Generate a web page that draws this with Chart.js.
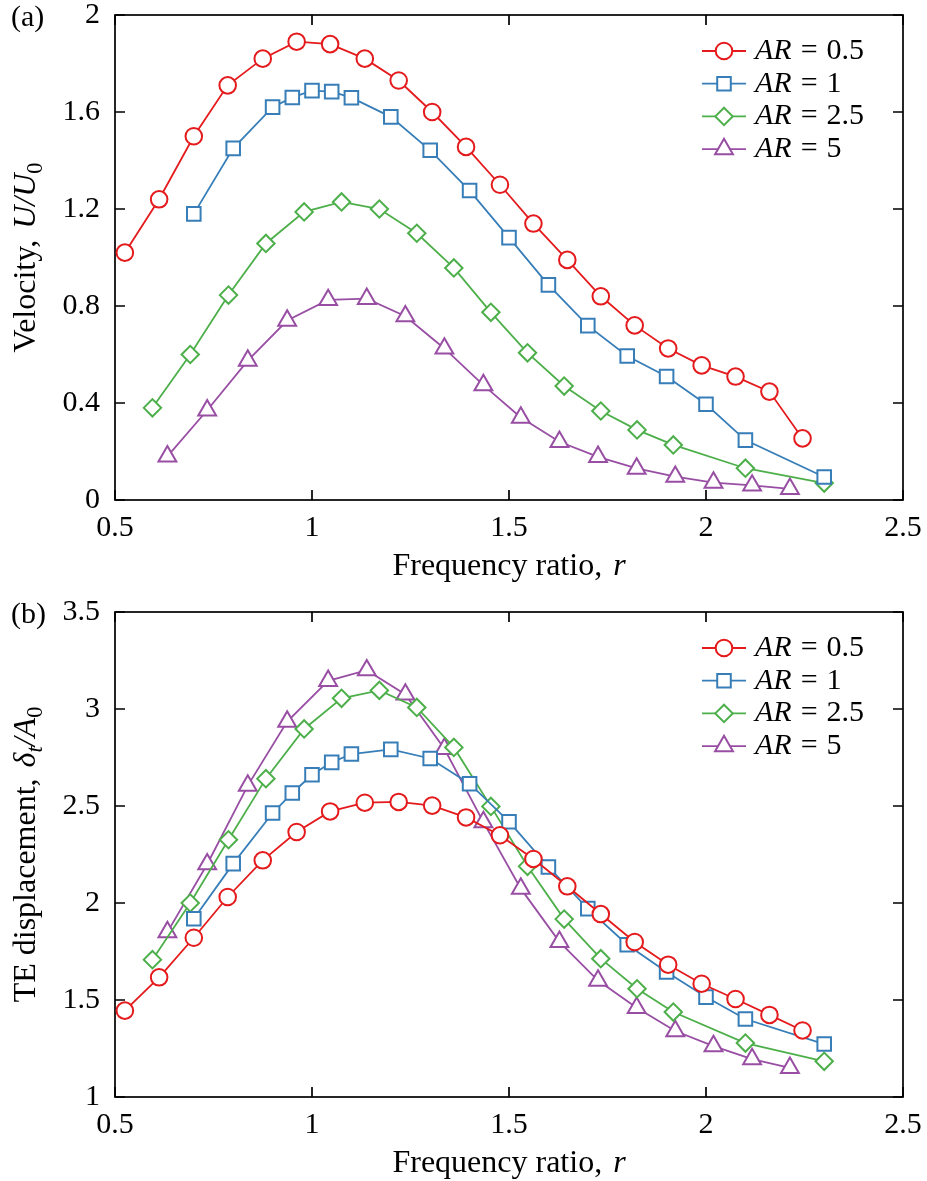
<!DOCTYPE html>
<html>
<head>
<meta charset="utf-8">
<script src="https://cdn.jsdelivr.net/npm/chart.js@4.4.0/dist/chart.umd.min.js"></script>
<style>
  body { margin: 0; background: #fff; }
  .box { position: absolute; left: 0; width: 927px; }
</style>
</head>
<body>
<div class="box" style="top:0;height:590px"><canvas id="velocity"></canvas></div>
<div class="box" style="top:590px;height:591px"><canvas id="displacement"></canvas></div>
<script>
// frequency ratio r for each series
var rAR05 = [0.525, 0.612, 0.700, 0.786, 0.875, 0.961, 1.046, 1.134, 1.220, 1.305, 1.391,
             1.477, 1.562, 1.648, 1.733, 1.819, 1.904, 1.989, 2.075, 2.161, 2.245];
var rAR1  = [0.70, 0.80, 0.90, 0.95, 1.00, 1.05, 1.10, 1.20, 1.30, 1.40, 1.50,
             1.60, 1.70, 1.80, 1.90, 2.00, 2.10, 2.30];
var rAR25 = [0.595, 0.691, 0.788, 0.883, 0.980, 1.075, 1.171, 1.266, 1.360, 1.454,
             1.547, 1.640, 1.733, 1.825, 1.917, 2.100, 2.300];
var rAR5  = [0.633, 0.734, 0.837, 0.937, 1.041, 1.139, 1.237, 1.336, 1.435,
             1.530, 1.628, 1.726, 1.824, 1.922, 2.019, 2.117, 2.213];

// (a) velocity U/U0
var velAR05 = [1.02, 1.24, 1.50, 1.71, 1.82, 1.89, 1.88, 1.82, 1.73, 1.60, 1.456,
               1.30, 1.14, 0.99, 0.84, 0.72, 0.625, 0.555, 0.509, 0.447, 0.254];
var velAR1  = [1.18, 1.45, 1.62, 1.66, 1.688, 1.684, 1.659, 1.58, 1.442, 1.276, 1.082,
               0.887, 0.719, 0.594, 0.509, 0.395, 0.247, 0.095];
var velAR25 = [0.38, 0.60, 0.845, 1.058, 1.188, 1.229, 1.20, 1.10, 0.957, 0.774,
               0.607, 0.47, 0.367, 0.289, 0.227, 0.131, 0.07];
var velAR5  = [0.18, 0.37, 0.575, 0.74, 0.825, 0.83, 0.758, 0.625, 0.474,
               0.34, 0.24, 0.178, 0.13, 0.096, 0.072, 0.06, 0.046];

// (b) TE displacement delta_t/A0
var dispAR05 = [1.445, 1.617, 1.821, 2.031, 2.220, 2.366, 2.472, 2.517, 2.521, 2.502, 2.441,
                2.349, 2.227, 2.086, 1.943, 1.799, 1.682, 1.584, 1.505, 1.423, 1.343];
var dispAR1  = [1.919, 2.203, 2.464, 2.567, 2.661, 2.725, 2.768, 2.792, 2.745, 2.615, 2.419,
                2.186, 1.971, 1.785, 1.644, 1.515, 1.402, 1.273];
var dispAR25 = [1.708, 2.000, 2.326, 2.641, 2.897, 3.055, 3.096, 3.008, 2.802, 2.498,
                2.189, 1.917, 1.713, 1.558, 1.438, 1.278, 1.184];
var dispAR5  = [1.85, 2.20, 2.605, 2.935, 3.145, 3.20, 3.075, 2.795, 2.417,
                2.074, 1.80, 1.60, 1.46, 1.34, 1.262, 1.195, 1.15];

var seriesNames = ['0.5', '1', '2.5', '5'];
var seriesColors = ['#e41a1c', '#377eb8', '#4daf4a', '#984ea3'];
var seriesMarkers = ['circle', 'rect', 'rectRot', 'triangle'];
var markerSizes = [8.3, 9.6, 8.7, 10.3];

var xTicks = [0.5, 1, 1.5, 2, 2.5];

var SERIF = '"Liberation Serif", "DejaVu Serif", serif';
var FS = 30;   // tick labels
var TS = 32;   // axis titles

function pairs(xs, ys) {
  return xs.map(function (x, i) { return { x: x, y: ys[i] }; });
}

function makeDatasets(ySets) {
  var xSets = [rAR05, rAR1, rAR25, rAR5];
  return ySets.map(function (ys, i) {
    return {
      label: 'AR = ' + seriesNames[i],
      data: pairs(xSets[i], ys),
      borderColor: seriesColors[i],
      borderWidth: 1.8,
      pointStyle: seriesMarkers[i],
      pointRadius: markerSizes[i],
      pointHoverRadius: markerSizes[i],
      pointBorderWidth: 2,
      pointBackgroundColor: '#fff',
      pointBorderColor: seriesColors[i],
      clip: false,
      tension: 0
    };
  });
}

// draw text made of pieces in different styles, centred on (x, y)
function drawRich(c, parts, x, y, size) {
  var w = 0;
  parts.forEach(function (p) {
    p.px = p.sub ? size * 0.7 : size;
    c.font = (p.it ? 'italic ' : '') + p.px + 'px ' + SERIF;
    p.w = c.measureText(p.t).width + (p.gap || 0);
    w += p.w;
  });
  var cx = x - w / 2;
  c.textAlign = 'left';
  c.textBaseline = 'middle';
  parts.forEach(function (p) {
    c.font = (p.it ? 'italic ' : '') + p.px + 'px ' + SERIF;
    c.fillText(p.t, cx, y + (p.sub ? size * 0.28 : 0));
    cx += p.w;
  });
}

function drawMarker(c, style, r, x, y) {
  c.beginPath();
  if (style === 'circle') {
    c.arc(x, y, r, 0, Math.PI * 2);
  } else if (style === 'rect') {
    var s = r * Math.SQRT1_2;
    c.rect(x - s, y - s, 2 * s, 2 * s);
  } else if (style === 'rectRot') {
    c.moveTo(x, y - r); c.lineTo(x + r, y); c.lineTo(x, y + r); c.lineTo(x - r, y); c.closePath();
  } else {
    c.moveTo(x, y - r);
    c.lineTo(x + r * Math.sin(Math.PI * 2 / 3), y - r * Math.cos(Math.PI * 2 / 3));
    c.lineTo(x - r * Math.sin(Math.PI * 2 / 3), y - r * Math.cos(Math.PI * 2 / 3));
    c.closePath();
  }
  c.fill();
  c.stroke();
}

var framePlugin = {
  id: 'frame',
  beforeDatasetsDraw: function (chart) {
    var a = chart.chartArea, c = chart.ctx;
    var xs = chart.scales.x, ys = chart.scales.y;
    c.save();
    c.strokeStyle = '#000';
    c.lineWidth = 1.7;
    c.beginPath();
    xs.ticks.forEach(function (t) {
      var p = xs.getPixelForValue(t.value);
      c.moveTo(p, a.bottom); c.lineTo(p, a.bottom - 10);
      c.moveTo(p, a.top); c.lineTo(p, a.top + 10);
    });
    ys.ticks.forEach(function (t) {
      var p = ys.getPixelForValue(t.value);
      c.moveTo(a.left, p); c.lineTo(a.left + 10, p);
      c.moveTo(a.right, p); c.lineTo(a.right - 10, p);
    });
    c.stroke();
    c.strokeRect(a.left, a.top, a.right - a.left, a.bottom - a.top);
    c.restore();
  },
  afterDraw: function (chart) {
    var o = chart.options.plugins.frame;
    var a = chart.chartArea, c = chart.ctx;
    c.save();
    c.fillStyle = '#000';
    // panel tag
    c.font = FS + 'px ' + SERIF;
    c.textAlign = 'left';
    c.textBaseline = 'middle';
    c.fillText(o.tag, 11, a.top + 3);
    // x title
    drawRich(c, [{ t: 'Frequency ratio, ', gap: 3 }, { t: 'r', it: true }],
      (a.left + a.right) / 2, a.bottom + 67, TS);
    // y title
    c.translate(27, (a.top + a.bottom) / 2);
    c.rotate(-Math.PI / 2);
    drawRich(c, o.yTitle, 0, 0, TS);
    c.restore();

    // legend
    c.save();
    chart.data.datasets.forEach(function (ds, i) {
      var y = a.top + 36 + i * 32.7;
      var x0 = a.right - 201, x1 = a.right - 157;
      c.strokeStyle = ds.borderColor;
      c.lineWidth = 1.8;
      c.beginPath(); c.moveTo(x0, y); c.lineTo(x1, y); c.stroke();
      c.fillStyle = '#fff';
      c.lineWidth = 2;
      drawMarker(c, ds.pointStyle, ds.pointRadius, (x0 + x1) / 2, y);
      c.fillStyle = '#000';
      c.textAlign = 'left';
      c.textBaseline = 'middle';
      c.font = 'italic 30px ' + SERIF;
      c.fillText('AR', a.right - 148, y);
      var w = c.measureText('AR').width;
      c.font = '30px ' + SERIF;
      c.fillText('=', a.right - 148 + w + 9, y);
      c.fillText(seriesNames[i], a.right - 148 + w + 9 + c.measureText('=').width + 9, y);
    });
    c.restore();
  }
};

function noOverflow(s) {
  s.paddingTop = 0; s.paddingBottom = 0; s.paddingLeft = 0; s.paddingRight = 0;
}

function makeChart(id, ySets, yMin, yMax, yStep, topPad, xHeight, tag, yTitle) {
  return new Chart(document.getElementById(id), {
    type: 'line',
    data: { datasets: makeDatasets(ySets) },
    plugins: [framePlugin],
    options: {
      responsive: true,
      maintainAspectRatio: false,
      animation: false,
      events: [],
      layout: { padding: { left: 0, right: 24, top: topPad, bottom: 0 } },
      scales: {
        x: {
          type: 'linear',
          min: 0.5, max: 2.5,
          afterBuildTicks: function (s) { s.ticks = xTicks.map(function (v) { return { value: v }; }); },
          afterFit: function (s) { s.height = xHeight; noOverflow(s); },
          grid: { display: false, drawTicks: false },
          border: { display: false },
          ticks: {
            padding: 13,
            color: '#000',
            font: { family: SERIF, size: FS, lineHeight: 1 },
            maxRotation: 0,
            callback: function (v) { return String(+v.toFixed(2)); }
          }
        },
        y: {
          min: yMin, max: yMax,
          afterFit: function (s) { s.width = 115; noOverflow(s); },
          grid: { display: false, drawTicks: false },
          border: { display: false },
          ticks: {
            stepSize: yStep,
            padding: 15,
            color: '#000',
            font: { family: SERIF, size: FS, lineHeight: 1 },
            callback: function (v) { return String(+v.toFixed(2)); }
          }
        }
      },
      plugins: {
        legend: { display: false },
        tooltip: { enabled: false },
        frame: { tag: tag, yTitle: yTitle }
      }
    }
  });
}

makeChart('velocity', [velAR05, velAR1, velAR25, velAR5], 0, 2, 0.4, 15, 90, '(a)',
  [{ t: 'Velocity, ', gap: 3 }, { t: 'U/U', it: true }, { t: '0', sub: true }]);

makeChart('displacement', [dispAR05, dispAR1, dispAR25, dispAR5], 1, 3.5, 0.5, 22, 84, '(b)',
  [{ t: 'TE displacement, ', gap: 3 }, { t: '\u03b4', it: true }, { t: 't', it: true, sub: true },
   { t: '/A', it: true }, { t: '0', sub: true }]);
</script>
</body>
</html>
